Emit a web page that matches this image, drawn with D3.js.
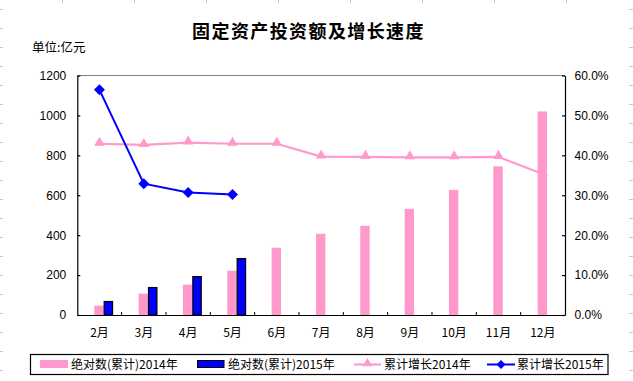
<!DOCTYPE html>
<html><head><meta charset="utf-8">
<script src="https://cdn.jsdelivr.net/npm/d3@7"></script>
<style>body{margin:0;background:#fff}svg{display:block}</style>
</head><body>
<script>
const months = ["2月","3月","4月","5月","6月","7月","8月","9月","10月","11月","12月"];
const abs2014 = [47,107,152,222,337,407,447,532,627,745,1020];
const abs2015 = [70,140,195,285];
const growth2014 = [0.429,0.426,0.432,0.429,0.429,0.397,0.396,0.395,0.395,0.396,0.353];
const growth2015 = [0.564,0.329,0.307,0.302];
const leftTicks = [0,200,400,600,800,1000,1200];
const rightTicks = [0,0.1,0.2,0.3,0.4,0.5,0.6];
const legendLabels = ["绝对数(累计)2014年","绝对数(累计)2015年","累计增长2014年","累计增长2015年"];
const title = "固定资产投资额及增长速度";
const unitLabel = "单位:亿元";

const W=633,H=381;
const PINK="#FF99CC", BLUE="#0000FF";
const cjk = "'Noto Sans CJK SC','Noto Sans',sans-serif";
const num = "'Liberation Sans',Arial,sans-serif";
const svg = d3.select("body").append("svg").attr("width",W).attr("height",H);

// faint cell grid remnants at the edges
const edge = svg.append("g").attr("stroke","#c8c8c8").attr("stroke-width",1);
for(let y=9.5;y<H;y+=19){
  edge.append("line").attr("x1",0).attr("x2",3).attr("y1",y).attr("y2",y);
  edge.append("line").attr("x1",629).attr("x2",W).attr("y1",y).attr("y2",y);
}
for(let x=62.5;x<W;x+=72){
  edge.append("line").attr("x1",x).attr("x2",x).attr("y1",0).attr("y2",3);
}

const L=77.3,R=565,T=75.5,B=315;
const x = d3.scaleBand().domain(months).range([L,R]).padding(0);
const yL = d3.scaleLinear().domain([0,1200]).range([B,T]);
const yR = d3.scaleLinear().domain([0,0.6]).range([B,T]);

// title
svg.append("text").attr("x",308.5).attr("y",37.5).attr("text-anchor","middle")
  .attr("font-family",cjk).attr("font-weight","bold").attr("font-size",18)
  .attr("letter-spacing","1.4px").text(title);
svg.append("text").attr("x",32).attr("y",52).attr("font-family",cjk)
  .attr("font-size",12.5).text(unitLabel);

// top border of plot
svg.append("line").attr("x1",L).attr("x2",R).attr("y1",T).attr("y2",T)
  .attr("stroke","#808080").attr("stroke-width",1);

// bars
const bw = 9.4;
const cx = m => x(m)+x.bandwidth()/2;
svg.append("g").selectAll("rect").data(abs2014).join("rect")
  .attr("x",(d,i)=>cx(months[i])-5.2).attr("width",bw)
  .attr("y",d=>yL(d)).attr("height",d=>B-yL(d)).attr("fill",PINK);
svg.append("g").selectAll("rect").data(abs2015).join("rect")
  .attr("x",(d,i)=>cx(months[i])+4.7).attr("width",bw-1)
  .attr("y",d=>yL(d)+0.5).attr("height",d=>B-yL(d)-0.5)
  .attr("fill",BLUE).attr("stroke","#000").attr("stroke-width",1.2);

// axes
const gl = svg.append("g").attr("transform",`translate(${L},0)`)
  .call(d3.axisLeft(yL).tickValues(leftTicks).tickSizeInner(-3).tickSizeOuter(0).tickPadding(11).tickFormat(d3.format("d")));
const gr = svg.append("g").attr("transform",`translate(${R},0)`)
  .call(d3.axisRight(yR).tickValues(rightTicks).tickSizeInner(-3).tickSizeOuter(0).tickPadding(9.5).tickFormat(d3.format(".1%")));
const gx = svg.append("g").attr("transform",`translate(0,${B})`)
  .call(d3.axisBottom(x).tickSize(0).tickPadding(13));
// band boundary ticks on x axis
svg.append("g").selectAll("line").data(months.slice(1)).join("line")
  .attr("x1",d=>x(d)).attr("x2",d=>x(d)).attr("y1",B).attr("y2",B-3)
  .attr("stroke","#000");
[gl,gr,gx].forEach(g=>{
  g.selectAll("path,line").attr("stroke","#000").attr("stroke-width",1.2);
  g.selectAll("text").attr("font-family",num).attr("font-size",12).attr("fill","#000");
});
gx.selectAll("text").attr("font-family",cjk).attr("font-size",12);

// lines
const line = d3.line().x((d,i)=>cx(months[i]));
svg.append("path").datum(growth2014).attr("fill","none").attr("stroke",PINK).attr("stroke-width",2.2)
  .attr("d",line.y(d=>yR(d)));
svg.append("path").datum(growth2015).attr("fill","none").attr("stroke",BLUE).attr("stroke-width",2)
  .attr("d",line.y(d=>yR(d)));
const tri = d3.symbol().type(d3.symbolTriangle).size(48);
const dia = (s)=>`M0,${-s}L${s},0L0,${s}L${-s},0Z`;
svg.append("g").selectAll("path").data(growth2014).join("path")
  .attr("d",tri).attr("fill",PINK)
  .attr("transform",(d,i)=>`translate(${cx(months[i])},${yR(d)-1})`);
svg.append("g").selectAll("path").data(growth2015).join("path")
  .attr("d",dia(5.5)).attr("fill",BLUE)
  .attr("transform",(d,i)=>`translate(${cx(months[i])},${yR(d)})`);

// legend
const lg = svg.append("g");
lg.append("rect").attr("x",30.5).attr("y",354.5).attr("width",577.5).attr("height",20)
  .attr("fill","#fff").attr("stroke","#000").attr("stroke-width",1.2);
lg.append("rect").attr("x",40).attr("y",360).attr("width",28).attr("height",8).attr("fill",PINK);
lg.append("rect").attr("x",197.5).attr("y",360.5).attr("width",26.5).attr("height",7).attr("fill",BLUE).attr("stroke","#000");
lg.append("line").attr("x1",354).attr("x2",381).attr("y1",364.5).attr("y2",364.5).attr("stroke",PINK).attr("stroke-width",2.2);
lg.append("path").attr("d",d3.symbol().type(d3.symbolTriangle).size(40)).attr("fill",PINK).attr("transform","translate(367.5,363.5)");
lg.append("line").attr("x1",487).attr("x2",515).attr("y1",364.5).attr("y2",364.5).attr("stroke",BLUE).attr("stroke-width",2);
lg.append("path").attr("d",dia(4.5)).attr("fill",BLUE).attr("transform","translate(501,364.5)");
const lx=[71,228,384,517];
lg.selectAll("text").data(legendLabels).join("text")
  .attr("x",(d,i)=>lx[i]).attr("y",369).attr("font-family",cjk).attr("font-size",12)
  .attr("fill","#000").text(d=>d);
</script>
</body></html>
